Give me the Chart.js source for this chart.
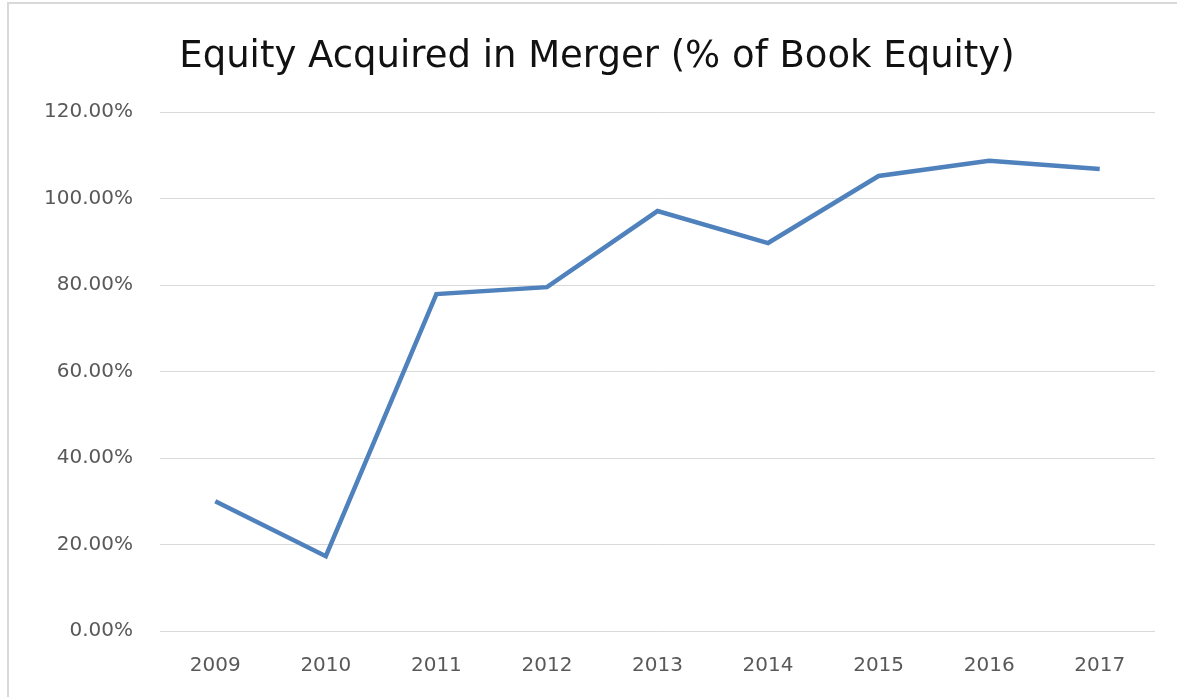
<!DOCTYPE html>
<html>
<head>
<meta charset="utf-8">
<script src="https://cdn.jsdelivr.net/npm/chart.js@4/dist/chart.umd.min.js"></script>
<style>
  html, body { margin: 0; padding: 0; background: #fff; }
  #wrap { position: relative; width: 1177px; height: 697px; overflow: hidden; }
  #frame {
    position: absolute; left: 7px; top: 2px; width: 1200px; height: 720px;
    border-top: 2px solid #d9d9d9; border-left: 2px solid #d9d9d9;
    pointer-events: none;
  }
  canvas { position: absolute; left: 0; top: 0; }
</style>
</head>
<body>
<div id="wrap">
  <canvas id="chart" width="1177" height="697"></canvas>
  <div id="frame"></div>
</div>
<script>
// ── DATA ────────────────────────────────────────────────────
const years = ['2009', '2010', '2011', '2012', '2013', '2014', '2015', '2016', '2017'];
const equityPct = [30.0, 17.3, 77.9, 79.5, 97.1, 89.7, 105.2, 108.7, 106.8];
const yTicks = [0, 20, 40, 60, 80, 100, 120];

const FONT = '"DejaVu Sans", sans-serif';

new Chart(document.getElementById('chart'), {
  type: 'line',
  data: {
    labels: years,
    datasets: [{
      data: equityPct,
      borderColor: '#4f81bd',
      borderWidth: 4.5,
      pointRadius: 0,
      tension: 0,
      fill: false
    }]
  },
  options: {
    responsive: false,
    animation: false,
    layout: { padding: { left: 39, right: 22, top: 0, bottom: 0 } },
    plugins: {
      legend: { display: false },
      tooltip: { enabled: false },
      title: {
        display: true,
        text: 'Equity Acquired in Merger (% of Book Equity)',
        color: '#111',
        font: { family: FONT, size: 37, weight: 'normal', lineHeight: 1.2 },
        padding: { top: 35, bottom: 32.6 }
      }
    },
    scales: {
      x: {
        offset: true,
        grid: { display: false, drawTicks: false },
        border: { display: false },
        ticks: { color: '#595959', font: { family: FONT, size: 20 }, padding: 23 },
        afterFit: s => { s.height = 66; }
      },
      y: {
        min: 0,
        max: 120,
        afterBuildTicks: s => { s.ticks = yTicks.map(v => ({ value: v })); },
        grid: { color: '#d9d9d9', lineWidth: 1, drawTicks: false },
        border: { display: false },
        ticks: {
          color: '#595959',
          font: { family: FONT, size: 20 },
          padding: 27,
          callback: v => v.toFixed(2) + '%'
        },
        afterFit: s => { s.width = 121; }
      }
    }
  }
});
</script>
</body>
</html>
